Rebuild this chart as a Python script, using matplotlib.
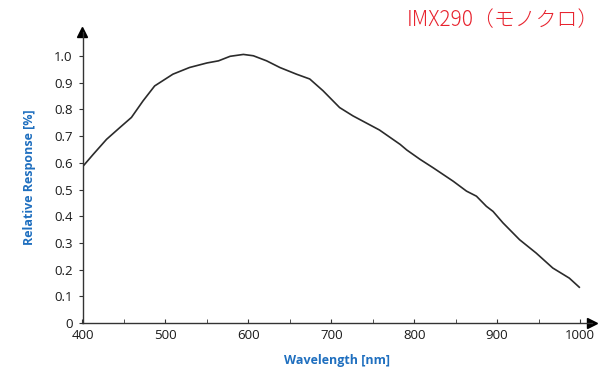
import numpy as np
import matplotlib.pyplot as plt
from matplotlib.ticker import MultipleLocator

# - Spectral response
wavelength = [400, 413, 429, 445, 459, 473, 487, 509, 529, 550, 564, 578, 594, 606,
              622, 638, 658, 674, 690, 710, 726, 758, 783, 791, 807, 823, 847, 863,
              875, 887, 895, 907, 927, 947, 967, 987, 999]
response = [0.585, 0.632, 0.688, 0.732, 0.770, 0.832, 0.888, 0.932, 0.957, 0.974, 0.982,
            0.999, 1.006, 1.001, 0.982, 0.957, 0.932, 0.914, 0.870, 0.807, 0.776, 0.723,
            0.669, 0.648, 0.613, 0.581, 0.531, 0.494, 0.475, 0.437, 0.418, 0.375, 0.312,
            0.262, 0.206, 0.168, 0.134]

x_ticks = [400, 500, 600, 700, 800, 900, 1000]
y_ticks = [0, 0.1, 0.2, 0.3, 0.4, 0.5, 0.6, 0.7, 0.8, 0.9, 1.0]
y_labels = ['0', '0.1', '0.2', '0.3', '0.4', '0.5', '0.6', '0.7', '0.8', '0.9', '1.0']

title = 'IMX290（モノクロ）'

axis_col = '#333333'
blue = '#1f6fbf'

plt.rcParams['font.family'] = ['Open Sans', 'DejaVu Sans']

fig = plt.figure(figsize=(6.0, 3.87), dpi=100)
ax = fig.add_axes([0.1375, 0.1654, 0.8487, 0.7519])

ax.plot(wavelength, response, color='#2b2b2b', lw=1.2)

xmax, ymax = 1014, 1.09
ax.set_xlim(400, xmax)
ax.set_ylim(0, ymax)

for s in ['top', 'right']:
    ax.spines[s].set_visible(False)
for s in ['left', 'bottom']:
    ax.spines[s].set_color(axis_col)
    ax.spines[s].set_linewidth(1.0)

# - arrow heads
ax.plot([400], [ymax], marker='^', ms=7, color='black', clip_on=False)
ax.plot([xmax], [0], marker='>', ms=7, color='black', clip_on=False)

ax.set_xticks(x_ticks)
ax.xaxis.set_minor_locator(MultipleLocator(50))
ax.set_yticks(y_ticks)
ax.set_yticklabels(y_labels)
ax.tick_params(axis='x', which='both', direction='in', length=3, color=axis_col,
               labelsize=9.5, labelcolor='#1a1a1a', pad=4)
ax.tick_params(axis='y', direction='out', length=3, color=axis_col,
               labelsize=9.5, labelcolor='#1a1a1a', pad=4)

ax.set_xlabel('Wavelength [nm]', color=blue, fontsize=9, fontweight='bold', labelpad=9)
ax.set_ylabel('Relative Response [%]', color=blue, fontsize=9, fontweight='bold', labelpad=13)

fig.text(0.678, 0.948, title, color='#e8232e', fontsize=15, ha='left', va='center',
         family=['Noto Sans CJK JP', 'DejaVu Sans'], fontweight='light')

plt.savefig('out.png', dpi=100)
